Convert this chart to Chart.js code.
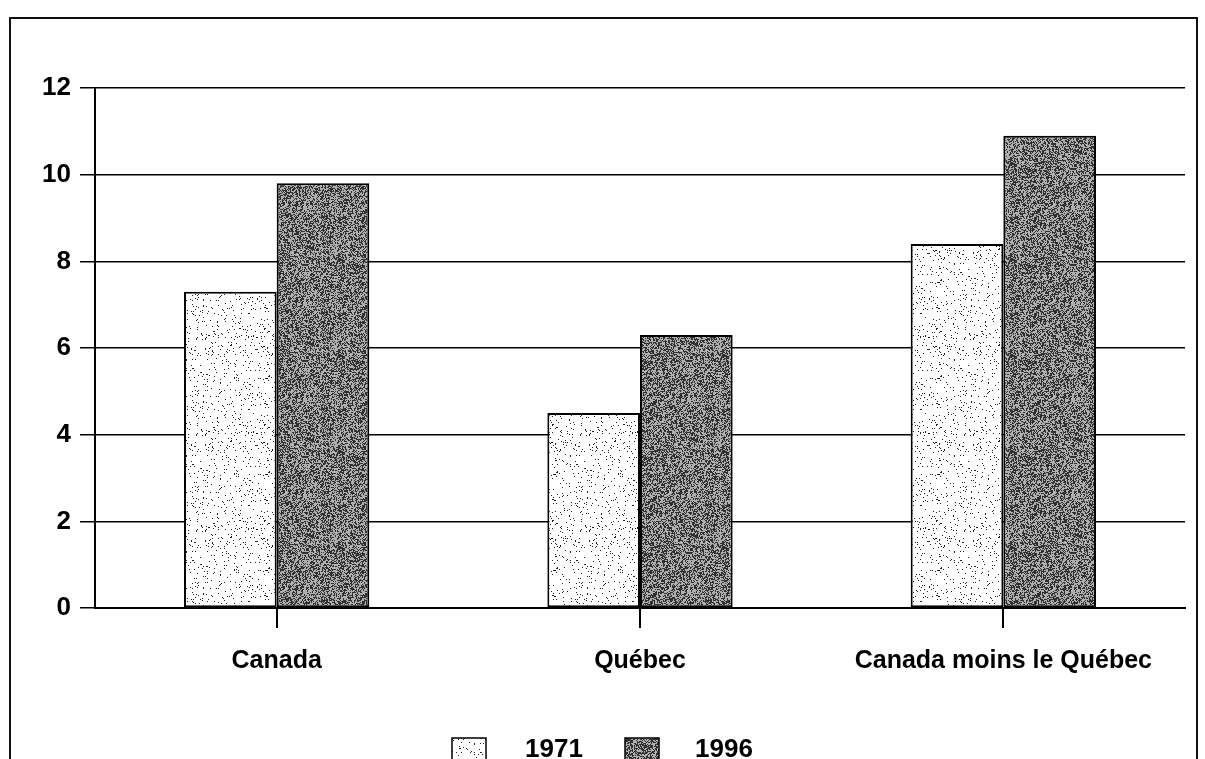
<!DOCTYPE html>
<html lang="fr">
<head>
    <meta charset="UTF-8">
    <title>Canada, Québec, Canada moins le Québec - 1971 et 1996</title>
    <script src="https://cdn.jsdelivr.net/npm/chart.js"></script>
    <style>
        body {
            margin: 0;
            background-color: #ffffff;
            font-family: "Liberation Sans", Arial, sans-serif;
        }

        .frame {
            position: absolute;
            left: 9px;
            top: 17px;
            width: 1189px;
            height: 780px;
            border: 2px solid #111;
            box-sizing: border-box;
        }

        .wrap {
            position: absolute;
            left: 0;
            top: 0;
            width: 1205px;
            height: 759px;
        }
    </style>
</head>
<body>
    <div class="frame"></div>
    <div class="wrap">
        <canvas id="barChart" width="1205" height="759"></canvas>
    </div>

    <script>
        const categories = ['Canada', 'Québec', 'Canada moins le Québec'];
        const years = ['1971', '1996'];
        const values1971 = [7.3, 4.5, 8.4];
        const values1996 = [9.8, 6.3, 10.9];
        const yTicks = [0, 2, 4, 6, 8, 10, 12];

        // speckled textures like the printed original (fixed hash, not data)
        function hash(x, y, s) {
            let h = (x * 374761393 + y * 668265263 + s * 2246822519) | 0;
            h = (h ^ (h >>> 13)) * 1274126177;
            h = h ^ (h >>> 16);
            return (h >>> 0) / 4294967295;
        }

        function makePattern(base, dotColor, density, seed) {
            const c = document.createElement('canvas');
            c.width = 96;
            c.height = 96;
            const g = c.getContext('2d');
            g.fillStyle = base;
            g.fillRect(0, 0, 96, 96);
            g.fillStyle = dotColor;
            for (let y = 0; y < 96; y++) {
                for (let x = 0; x < 96; x++) {
                    if (hash(x, y, seed) < density) g.fillRect(x, y, 1, 1);
                }
            }
            return g.createPattern(c, 'repeat');
        }

        const light = makePattern('#ffffff', '#222222', 0.05, 1);
        const dark = makePattern('#b0b0b0', '#303030', 0.47, 2);
        const fills = [light, dark];

        const legendPlugin = {
            id: 'bottomLegend',
            afterDraw(chart) {
                const ctx = chart.ctx;
                const boxX = [452, 625];
                const textX = [525, 695];
                ctx.save();
                ctx.font = 'bold 26px "Liberation Sans", Arial, sans-serif';
                ctx.textBaseline = 'middle';
                years.forEach((yr, i) => {
                    ctx.fillStyle = fills[i];
                    ctx.fillRect(boxX[i], 738, 34, 30);
                    ctx.strokeStyle = '#000';
                    ctx.lineWidth = 1.5;
                    ctx.strokeRect(boxX[i], 738, 34, 30);
                    ctx.fillStyle = '#000';
                    ctx.fillText(yr, textX[i], 750);
                });
                ctx.restore();
            }
        };

        const ctx = document.getElementById('barChart').getContext('2d');
        new Chart(ctx, {
            type: 'bar',
            data: {
                labels: categories,
                datasets: [{
                    label: years[0],
                    data: values1971,
                    backgroundColor: light,
                    borderColor: '#000',
                    borderWidth: 2,
                    borderSkipped: false
                }, {
                    label: years[1],
                    data: values1996,
                    backgroundColor: dark,
                    borderColor: '#000',
                    borderWidth: 2,
                    borderSkipped: false
                }]
            },
            plugins: [legendPlugin],
            options: {
                responsive: false,
                animation: false,
                layout: {
                    padding: { left: 0, right: 20, top: 88, bottom: 0 }
                },
                datasets: {
                    bar: {
                        categoryPercentage: 0.51,
                        barPercentage: 1
                    }
                },
                plugins: {
                    legend: { display: false },
                    tooltip: { enabled: false }
                },
                scales: {
                    x: {
                        afterFit: s => { s.height = 151; },
                        grid: {
                            offset: false,
                            drawOnChartArea: false,
                            color: '#000',
                            lineWidth: 2,
                            tickLength: 20
                        },
                        border: { color: '#000', width: 2 },
                        ticks: {
                            color: '#000',
                            padding: 18,
                            maxRotation: 0,
                            font: { family: '"Liberation Sans", Arial, sans-serif', size: 25, weight: 'bold' }
                        }
                    },
                    y: {
                        min: 0,
                        max: 12,
                        afterFit: s => { s.width = 95; },
                        afterBuildTicks: s => { s.ticks = yTicks.map(v => ({ value: v })); },
                        grid: {
                            color: '#000',
                            lineWidth: 1.5,
                            tickLength: 15
                        },
                        border: { color: '#000', width: 2 },
                        ticks: {
                            color: '#000',
                            padding: 9,
                            font: { family: '"Liberation Sans", Arial, sans-serif', size: 26, weight: 'bold' }
                        }
                    }
                }
            }
        });
    </script>
</body>
</html>
